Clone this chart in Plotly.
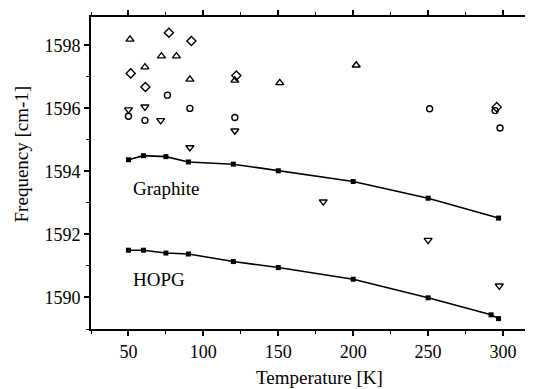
import plotly.graph_objects as go

# Graphite (filled squares, connected)
graphite_T = [50, 60, 75, 90, 120, 150, 200, 250, 297]
graphite_f = [1594.37, 1594.5, 1594.47, 1594.3, 1594.23, 1594.02, 1593.68, 1593.15, 1592.52]

# HOPG (filled squares, connected)
hopg_T = [50, 60, 75, 90, 120, 150, 200, 250, 292, 297]
hopg_f = [1591.5, 1591.5, 1591.41, 1591.38, 1591.14, 1590.95, 1590.58, 1589.99, 1589.45, 1589.33]

# open triangles up
tri_up_T = [51, 61, 72, 82, 91, 121, 151, 202]
tri_up_f = [1598.19, 1597.31, 1597.66, 1597.66, 1596.92, 1596.89, 1596.81, 1597.37]

# open triangles down
tri_dn_T = [50, 61, 71.5, 91, 121, 180, 250, 297.5]
tri_dn_f = [1595.96, 1596.05, 1595.62, 1594.76, 1595.29, 1593.04, 1591.82, 1590.37]

# open circles
circ_T = [50, 61, 76, 91, 121, 251, 294.7, 298]
circ_f = [1595.75, 1595.62, 1596.42, 1596.0, 1595.71, 1595.99, 1595.93, 1595.38]

# open diamonds
diam_T = [51.5, 61.3, 77, 92, 122, 295.8]
diam_f = [1597.11, 1596.68, 1598.4, 1598.14, 1597.04, 1596.04]

x_ticks = [50, 100, 150, 200, 250, 300]
y_ticks = [1590, 1592, 1594, 1596, 1598]

FONT = "Liberation Serif, Times New Roman, DejaVu Serif, serif"

fig = go.Figure()

def open_marker(T, f, symbol, size=7):
    fig.add_trace(go.Scatter(
        x=T, y=f, mode="markers",
        marker=dict(symbol=symbol, size=size, color="black",
                    line=dict(color="black", width=1.4)),
        showlegend=False, hoverinfo="skip"))

for T, f in [(graphite_T, graphite_f), (hopg_T, hopg_f)]:
    fig.add_trace(go.Scatter(
        x=T, y=f, mode="lines+markers",
        line=dict(color="black", width=1.6),
        marker=dict(symbol="square", size=5, color="black"),
        showlegend=False, hoverinfo="skip"))

open_marker(tri_up_T, tri_up_f, "triangle-up-open", 7)
open_marker(tri_dn_T, tri_dn_f, "triangle-down-open", 7)
open_marker(circ_T, circ_f, "circle-open", 6)
open_marker(diam_T, diam_f, "diamond-open", 7)

fig.add_annotation(x=52, y=1593.46, text="Graphite", showarrow=False,
                   xanchor="left", font=dict(family=FONT, size=19, color="black"))
fig.add_annotation(x=52, y=1590.58, text="HOPG", showarrow=False,
                   xanchor="left", font=dict(family=FONT, size=19, color="black"))

# axis titles as annotations (placed as in reference)
fig.add_annotation(xref="paper", yref="paper", x=-0.158, y=0.56, xanchor="center",
                   yanchor="middle",
                   text="Frequency [cm-1]", textangle=-90, showarrow=False,
                   font=dict(family=FONT, size=19, color="black"))
fig.add_annotation(xref="paper", yref="paper", x=0.518, y=-0.155, xanchor="center",
                   yanchor="middle",
                   text="Temperature [K]", showarrow=False,
                   font=dict(family=FONT, size=19, color="black"))

fig.update_xaxes(
    range=[25, 320], tickvals=x_ticks, ticks="outside", ticklen=5, tickwidth=1.5,
    showline=True, linecolor="black", linewidth=2, mirror="ticks",
    showgrid=False, zeroline=False,
    minor=dict(dtick=25, tick0=0, ticks="outside", ticklen=3, tickwidth=1, tickcolor="black"),
    tickcolor="black",
    tickfont=dict(family=FONT, size=18, color="black"),
)
fig.update_yaxes(
    range=[1589, 1598.9], tickvals=y_ticks, ticks="outside", ticklen=5, tickwidth=1.5,
    showline=True, linecolor="black", linewidth=2, mirror=False,
    showgrid=False, zeroline=False,
    minor=dict(dtick=1, tick0=1589, ticks="outside", ticklen=3, tickwidth=1, tickcolor="black"),
    tickcolor="black",
    tickfont=dict(family=FONT, size=18, color="black"),
)

# page body has an 8px default margin, so the figure is shrunk/offset accordingly
fig.update_layout(
    width=525, height=381,
    margin=dict(l=83, r=0, t=9, b=60),
    plot_bgcolor="white", paper_bgcolor="white",
    font=dict(family=FONT, color="black"),
)

fig.write_html("out.html")
